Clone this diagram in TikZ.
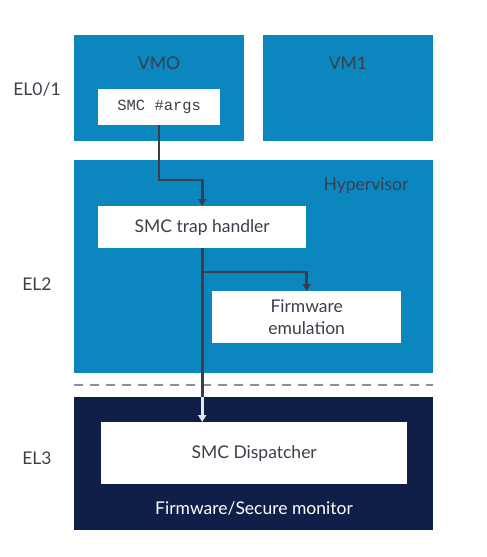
\documentclass[tikz,border=0pt]{standalone}
\usepackage{fontspec}
\setmainfont{Lato}
\setmonofont{Liberation Mono}
\usetikzlibrary{arrows.meta,positioning}
\definecolor{hypblue}{HTML}{0C86BF}
\definecolor{navy}{HTML}{0F1F47}
\definecolor{ink}{HTML}{3A3F4A}
\definecolor{dashgray}{HTML}{8A9098}
\definecolor{pale}{HTML}{E3E8EA}

\begin{document}
\begin{tikzpicture}[
  x=1pt, y=-1pt,
  layer/.style={rectangle, anchor=north west, inner sep=0pt},
  box/.style={rectangle, fill=white, anchor=north west, inner sep=0pt, align=center, text=ink, font=\fontsize{17.5}{22}\selectfont},
  tag/.style={text=ink, font=\fontsize{17.5}{22}\selectfont},
  wire/.style={draw=ink, line width=2.7pt},
  arrow/.style={wire, -{Triangle[width=8pt,length=7pt]}}
]
  \useasboundingbox (0,0) rectangle (487,557);

  % exception levels
  \node[layer, fill=hypblue, minimum width=170pt, minimum height=106pt] (vm0) at (74,35) {};
  \node[layer, fill=hypblue, minimum width=170pt, minimum height=106pt] (vm1) at (263,35) {};
  \node[layer, fill=hypblue, minimum width=359pt, minimum height=213pt] (hyp) at (74,160) {};
  \node[layer, fill=navy, minimum width=359pt, minimum height=133pt] (el3) at (74,397) {};
  \draw[dashgray, line width=1.2pt, dash pattern=on 9pt off 7pt] (74,385) -- (433,385);

  \node[tag] (vm0label) at (159,63) {VMO};
  \node[tag] (vm1label) at (348,63) {VM1};
  \node[tag] (hyplabel) at (366,186) {Hypervisor};
  \node[tag, text=white] (fwlabel) at (254,508) {Firmware/Secure monitor};

  \node[tag] (el01) at (37,89) {EL0/1};
  \node[tag] (el2) at (37,284) {EL2};
  \node[tag] (el3label) at (37,458) {EL3};

  % software components
  \node[box, minimum width=122pt, minimum height=36pt, font=\ttfamily\fontsize{15.5}{18}\selectfont] (args) at (98,89) {SMC \#args};
  \node[box, minimum width=208pt, minimum height=42pt] (trap) at (98,206) {SMC trap handler};
  \node[box, minimum width=189pt, minimum height=52pt] (fwemu) at (212,291) {Firmware\\emulation};
  \node[box, minimum width=306pt, minimum height=62pt] (disp) at (101,422) {SMC Dispatcher};

  % call flow
  \coordinate (bend) at (159,180);
  \coordinate (split) at (202,272);
  \draw[arrow] (args.south -| bend) -- (bend) -| (trap.north);
  \draw[arrow] (split) -| (fwemu.north);
  \draw[wire] (trap.south) -- (trap.south |- el3.north);
  \draw[arrow, draw=pale] (trap.south |- el3.north) -- (trap.south |- disp.north);
\end{tikzpicture}
\end{document}
